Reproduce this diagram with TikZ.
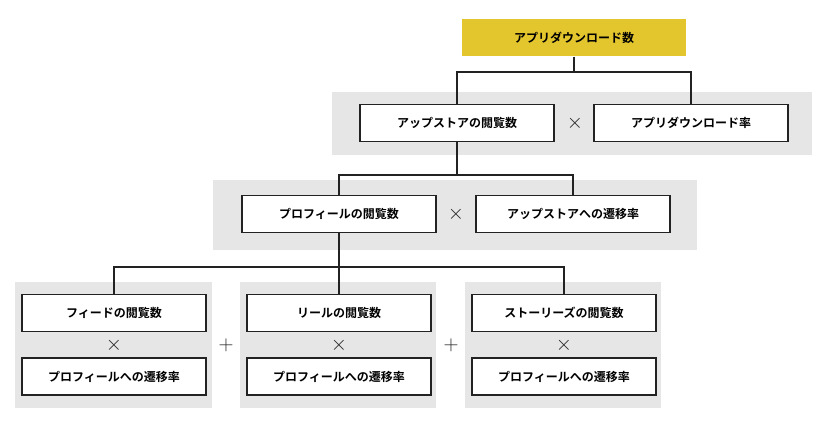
\documentclass[tikz,border=0pt]{standalone}
\usepackage{fontspec}
\setmainfont{Noto Sans CJK JP}[BoldFont={Noto Sans CJK JP Bold}]
\usetikzlibrary{positioning}
\definecolor{topyellow}{HTML}{E3C62E}
\definecolor{panelgray}{HTML}{E6E6E6}
\definecolor{linedark}{HTML}{222222}
\tikzset{
	box/.style={draw=linedark,line width=1.2pt,fill=white,minimum width=194pt,minimum height=37pt,font=\bfseries\fontsize{12}{14}\selectfont,inner sep=0pt},
	panel/.style={fill=panelgray,draw=none},
	op/.style={font=\bfseries\fontsize{22}{22}\selectfont,text=linedark,inner sep=0pt},
	link/.style={draw=linedark,line width=1.6pt}
}
\begin{document}
\begin{tikzpicture}[x=1pt,y=-1pt]
	\useasboundingbox (0,0) rectangle (828,425);
	% panels
	\fill[panel] (332,92) rectangle (812,155);
	\fill[panel] (213,180) rectangle (697,250);
	\fill[panel] (15,282) rectangle (212,408);
	\fill[panel] (240,282) rectangle (436,408);
	\fill[panel] (465,282) rectangle (661,408);
	% nodes
	\node[box,fill=topyellow,draw=none,minimum width=224pt] (T) at (574,37.5) {アプリダウンロード数};
	\node[box] (A) at (457,123) {アップストアの閲覧数};
	\node[box] (A') at (691,123) {アプリダウンロード率};
	\node[op] at (575,123) {$\times$};
	\node[box] (B) at (339,214) {プロフィールの閲覧数};
	\node[box] (B') at (573,214) {アップストアへの遷移率};
	\node[op] at (456,214) {$\times$};
	\node[box,minimum width=184pt] (C) at (114,313) {フィードの閲覧数};
	\node[box,minimum width=184pt] (C') at (114,376.5) {プロフィールへの遷移率};
	\node[box,minimum width=184pt] (D) at (339,313) {リールの閲覧数};
	\node[box,minimum width=184pt] (D') at (339,376.5) {プロフィールへの遷移率};
	\node[box,minimum width=184pt] (E) at (564,313) {ストーリーズの閲覧数};
	\node[box,minimum width=184pt] (E') at (564,376.5) {プロフィールへの遷移率};
	\foreach \x in {114,339,564} \node[op] at (\x,345) {$\times$};
	\foreach \x in {226,451} \node[op] at (\x,345) {$+$};
	% connectors
	\coordinate (t) at (574,72);
	\coordinate (a) at (457,175);
	\coordinate (b) at (339,267);
	\draw[link] (T.south) -- (t);
	\draw[link] (A.north) |- (t) -| (A'.north);
	\draw[link] (A.south) -- (a) -| (B'.north);
	\draw[link] (a) -| (B.north);
	\draw[link] (B.south) -- (b) -| (C.north);
	\draw[link] (b) -| (E.north);
	\draw[link] (b) -- (D.north);
\end{tikzpicture}
\end{document}
